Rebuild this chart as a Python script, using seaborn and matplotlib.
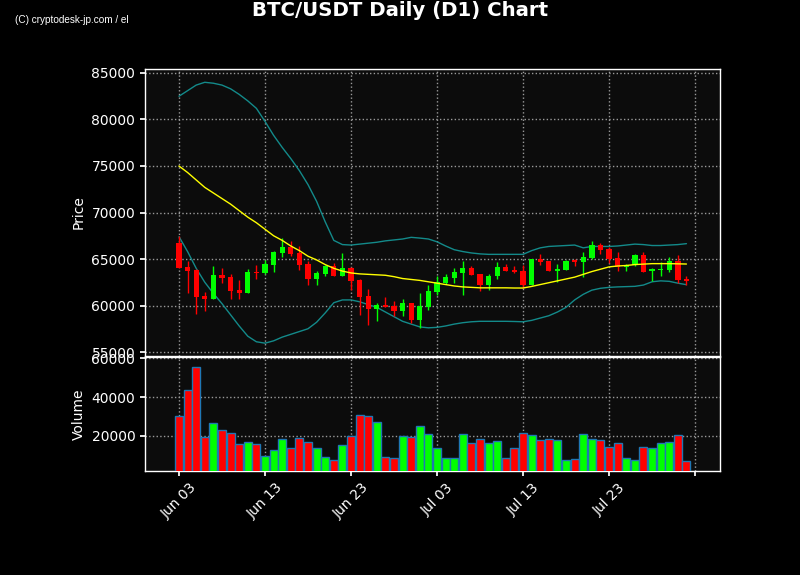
import numpy as np
import pandas as pd
import matplotlib
matplotlib.use("Agg")
import matplotlib.pyplot as plt
import matplotlib.dates as mdates
import seaborn as sns

# ---------------- data ----------------
start_date = "2024-06-03"
n_days = 60
opens = [66750, 64150, 63860, 61030, 60740, 63290, 63070, 61710, 61390, 63640,
         63540, 64400, 65650, 66290, 65650, 64470, 62860, 63430, 64220, 63210,
         64040, 62780, 60990, 59630, 60060, 59990, 59460, 60280, 58490, 59850,
         61460, 62430, 62960, 63500, 64040, 63390, 62250, 63140, 64110, 63820,
         63680, 62250, 65000, 64750, 63750, 63860, 64860, 64650, 65110, 66470,
         66080, 65110, 64110, 64320, 65400, 63680, 63860, 63860, 64830, 62890]
highs = [67500, 64750, 63900, 61420, 64220, 64070, 63430, 62780, 63890, 64320,
         64900, 65850, 67260, 66900, 66360, 64750, 63680, 64400, 64570, 65650,
         64100, 62800, 61820, 60280, 60920, 60460, 60710, 60300, 61350, 62180,
         63140, 63390, 64040, 64750, 64220, 63400, 63390, 64650, 64470, 64220,
         64320, 65050, 65540, 64830, 64470, 64860, 65000, 65720, 66900, 66720,
         66290, 65760, 64420, 65540, 65760, 64000, 64650, 65180, 65400, 63140]
lows = [64000, 61300, 59100, 59380, 60700, 62430, 60670, 60670, 61350, 62820,
        63400, 63600, 65220, 65290, 63860, 62180, 62250, 63140, 63200, 63150,
        61710, 59030, 57950, 58310, 59800, 58850, 58920, 58130, 57590, 59560,
        61170, 62320, 62430, 61170, 63300, 61530, 61640, 62860, 63700, 63500,
        61890, 62180, 64400, 63680, 62500, 63820, 64220, 63040, 65050, 65540,
        64570, 63680, 63750, 64300, 63580, 62680, 63210, 63570, 62430, 62180]
closes = [64070, 63750, 60960, 60710, 63290, 63000, 61600, 61390, 63610, 63540,
          64500, 65750, 66290, 65540, 64400, 62860, 63500, 64220, 63210, 64040,
          62680, 60920, 59630, 60030, 59850, 59460, 60280, 58490, 59920, 61600,
          62500, 63040, 63610, 64040, 63320, 62250, 63140, 64110, 63750, 63640,
          62250, 65000, 64680, 63750, 63970, 64830, 64650, 65180, 66540, 66010,
          65000, 64110, 64400, 65400, 63610, 63970, 63970, 64830, 62780, 62680]
volumes = [30250, 43580, 55380, 19490, 26660, 23080, 21540, 15900, 16920, 15900,
           9750, 12820, 18460, 13850, 18970, 16920, 13850, 9230, 7700, 15390,
           20000, 30770, 30250, 27180, 9230, 8720, 20000, 19490, 25130, 21030,
           13850, 8720, 8720, 21030, 16410, 18460, 16410, 17440, 8720, 13850,
           21540, 20510, 17950, 18460, 17950, 7700, 8210, 21030, 18460, 17950,
           14360, 16410, 8720, 7700, 14360, 13850, 16410, 16920, 20510, 7180]
sma20 = [75000, 74300, 73500, 72700, 72100, 71500, 70900, 70200, 69500, 68900,
         68200, 67500, 67000, 66400, 65900, 65300, 64900, 64400, 64000, 63700,
         63500, 63400, 63350, 63300, 63250, 63100, 62900, 62800, 62700, 62550,
         62400, 62250, 62100, 62000, 61950, 61900, 61900, 61900, 61900, 61880,
         61880, 62050, 62250, 62450, 62650, 62850, 63050, 63350, 63650, 63900,
         64150, 64250, 64300, 64400, 64450, 64500, 64500, 64500, 64480, 64460]
bb_upper = [82500, 83100, 83700, 84000, 83900, 83700, 83300, 82700, 82000, 81200,
            79800, 78300, 77000, 75800, 74500, 73000, 71200, 69000, 67000, 66550,
            66500, 66600, 66700, 66800, 66950, 67050, 67150, 67330, 67250, 67150,
            66850, 66400, 66000, 65800, 65650, 65550, 65500, 65500, 65500, 65500,
            65500, 65900, 66200, 66350, 66400, 66450, 66500, 66200, 66350, 66350,
            66350, 66400, 66500, 66600, 66550, 66450, 66450, 66500, 66550, 66650]
bb_lower = [67400, 65800, 64000, 62500, 61300, 60200, 59000, 57800, 56700, 56100,
            55950, 56200, 56600, 56900, 57200, 57500, 58200, 59200, 60300, 60600,
            60600, 60400, 60100, 59800, 59300, 58800, 58300, 58000, 57700, 57600,
            57650, 57800, 58000, 58150, 58250, 58300, 58300, 58300, 58300, 58280,
            58250, 58400, 58650, 58900, 59300, 59800, 60600, 61200, 61650, 61850,
            61950, 62000, 62030, 62060, 62200, 62550, 62650, 62600, 62400, 62240]
price_ticks = [55000, 60000, 65000, 70000, 75000, 80000, 85000]
volume_ticks = [20000, 40000, 60000]
tick_dates = ["2024-06-03", "2024-06-13", "2024-06-23", "2024-07-03",
              "2024-07-13", "2024-07-23", "2024-08-02"]
tick_labels = ["Jun 03", "Jun 13", "Jun 23", "Jul 03", "Jul 13", "Jul 23", ""]

df = pd.DataFrame({
    "date": pd.date_range(start_date, periods=n_days, freq="D"),
    "open": opens, "high": highs, "low": lows, "close": closes,
    "volume": volumes, "sma": sma20, "upper": bb_upper, "lower": bb_lower,
})

# ---------------- style ----------------
sns.set_theme(style="dark")
plt.rcParams.update({
    "figure.facecolor": "black",
    "axes.facecolor": "#0c0c0c",
    "axes.edgecolor": "white",
    "axes.labelcolor": "white",
    "xtick.color": "white",
    "ytick.color": "white",
    "text.color": "white",
    "axes.grid": True,
    "grid.color": "#9a9a9a",
    "grid.linestyle": ":",
    "grid.linewidth": 1.0,
    "xtick.bottom": True,
    "ytick.left": True,
})
plt.rcParams["font.family"] = ["DejaVu Sans"]

fig = plt.figure(figsize=(8, 5.75), dpi=100)
ax_p = fig.add_axes([145 / 800, 1 - 356 / 575, 575 / 800, 287 / 575])
ax_v = fig.add_axes([145 / 800, 1 - 471 / 575, 575 / 800, 114 / 575], sharex=ax_p)

up = df["close"] >= df["open"]
colors = np.where(up, "#00ff00", "#ff0000")

# wicks
ax_p.vlines(df["date"], df["low"], df["high"], colors=colors, linewidth=1, zorder=3)
# bodies
body_bottom = np.minimum(df["open"], df["close"])
body_height = np.maximum(np.abs(df["close"] - df["open"]), 60)
ax_p.bar(df["date"], body_height, bottom=body_bottom, width=0.62,
         color=colors, linewidth=0, zorder=4)

sns.lineplot(data=df, x="date", y="sma", ax=ax_p, color="yellow", linewidth=1, zorder=5)
sns.lineplot(data=df, x="date", y="upper", ax=ax_p, color="#138a8a", linewidth=1, zorder=2)
sns.lineplot(data=df, x="date", y="lower", ax=ax_p, color="#138a8a", linewidth=1, zorder=2)

ax_p.set_ylim(54570, 85430)
ax_p.set_yticks(price_ticks)
ax_p.set_ylabel("Price", fontsize=10)
ax_p.set_xlabel("")
ax_p.tick_params(axis="x", labelbottom=False, length=3.5)
ax_p.tick_params(axis="y", labelsize=10, length=3.5)

# volume
ax_v.bar(df["date"], df["volume"], width=0.92, color=colors,
         edgecolor="#1f77b4", linewidth=1, zorder=3)
ax_v.set_ylim(1900, 60600)
ax_v.set_yticks(volume_ticks)
ax_v.set_ylabel("Volume", fontsize=10)
ax_v.set_xlabel("")

x0 = pd.Timestamp(start_date)
ax_v.set_xlim(x0 - pd.Timedelta(days=3.95), x0 + pd.Timedelta(days=62.9))
ax_v.set_xticks(pd.to_datetime(tick_dates))
ax_v.set_xticklabels(tick_labels, rotation=45, ha="center", fontsize=10)
ax_v.tick_params(axis="y", labelsize=10, length=3.5)
ax_v.tick_params(axis="x", length=3.5)

for ax in (ax_p, ax_v):
    for s in ax.spines.values():
        s.set_color("white")
        s.set_linewidth(1)
    ax.grid(True, color="#9a9a9a", linestyle=":", linewidth=1)

fig.text(0.5, 1 - 11 / 575, "BTC/USDT Daily (D1) Chart", ha="center", va="center",
         fontsize=14.2, fontweight="bold", color="white")
fig.text(15 / 800, 1 - 20 / 575, "(C) cryptodesk-jp.com / el", ha="left", va="center",
         fontsize=7.2, color="white", family=["Liberation Sans", "DejaVu Sans"])

fig.savefig("out.png", dpi=100, facecolor="black")
